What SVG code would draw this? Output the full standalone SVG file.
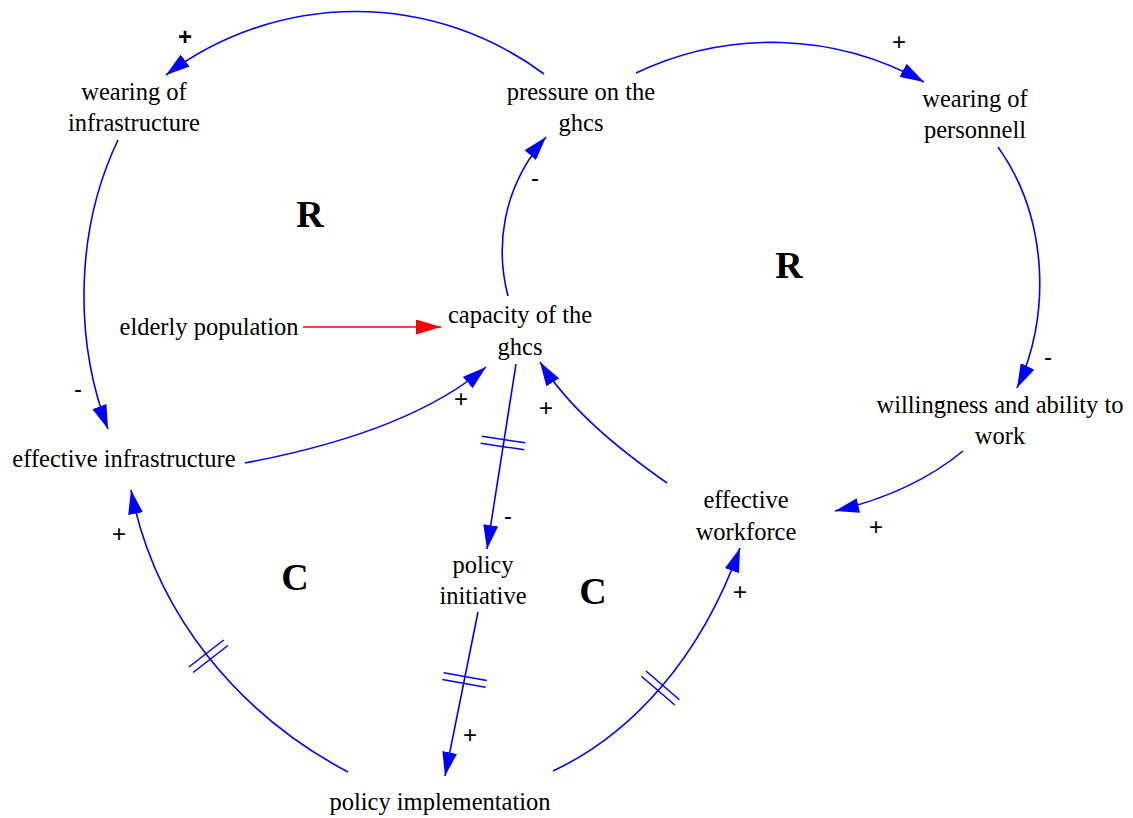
<svg xmlns="http://www.w3.org/2000/svg" width="1133" height="818" viewBox="0 0 1133 818">
<style>
.lbl{font-family:"Liberation Serif","Times New Roman",serif;font-size:24.5px;fill:#000;text-anchor:middle}
.loop{font-family:"Liberation Serif","Times New Roman",serif;font-size:38px;font-weight:bold;fill:#000;text-anchor:middle}
.pol{font-family:"Liberation Sans",Arial,sans-serif;font-size:24px;fill:#000;text-anchor:middle}
.c{fill:none;stroke:#0000ff;stroke-width:1.6}
.d{fill:none;stroke:#0000ff;stroke-width:1.5}
</style>
<defs>
<marker id="ab" markerUnits="userSpaceOnUse" viewBox="0 0 24 15" markerWidth="24" markerHeight="15" refX="24" refY="7.5" orient="auto"><path d="M0,0 L24,7.5 L0,15 z" fill="#0000ff"/></marker>
<marker id="ar" markerUnits="userSpaceOnUse" viewBox="0 0 25 15" markerWidth="25" markerHeight="15" refX="25" refY="7.5" orient="auto"><path d="M0,0 L25,7.5 L0,15 z" fill="#ff0000"/></marker>
</defs>
<g id="connectors">
<path class="c" d="M544,74 A315,315 0 0 0 166,75" marker-end="url(#ab)"/>
<path class="c" d="M636,73 A314,314 0 0 1 924,82" marker-end="url(#ab)"/>
<path class="c" d="M998,147 C1050,220 1050,320 1017,388" marker-end="url(#ab)"/>
<path class="c" d="M963,451 Q912,493 835,511" marker-end="url(#ab)"/>
<path class="c" d="M508,296 C496,250 500,190 546,137" marker-end="url(#ab)"/>
<path d="M303,327 L441,327" fill="none" stroke="#ff0000" stroke-width="1.6" marker-end="url(#ar)"/>
<path class="c" d="M245,463 Q410,432 486,367" marker-end="url(#ab)"/>
<path class="c" d="M118,140 C75,230 74,340 108,429" marker-end="url(#ab)"/>
<path class="c" d="M516,364 L487,549" marker-end="url(#ab)"/>
<path class="d" d="M481.7,436.2 L525.3,442.8 M480.7,443.2 L524.3,449.8"/>
<path class="c" d="M478,612 L445,776" marker-end="url(#ab)"/>
<path class="d" d="M443.6,672.7 L486.8,680.5 M442.4,679.5 L485.6,687.3"/>
<path class="c" d="M348,772 C240,715 155,615 131,490" marker-end="url(#ab)"/>
<path class="d" d="M188.9,667 L223.7,640 M193.1,672.5 L227.9,645.5"/>
<path class="c" d="M553,771 C630,735 700,660 740,548" marker-end="url(#ab)"/>
<path class="d" d="M646,671 L679.4,699.8 M641.4,676.2 L674.8,705"/>
<path class="c" d="M667,483 C620,450 570,410 540,362" marker-end="url(#ab)"/>
</g>
<g id="polarities">
<text class="pol" x="185" y="45" font-weight="bold">+</text>
<text class="pol" x="899" y="50">+</text>
<text class="pol" x="535" y="186">-</text>
<text class="pol" x="78" y="397">-</text>
<text class="pol" x="461" y="407">+</text>
<text class="pol" x="546" y="416">+</text>
<text class="pol" x="1048" y="365">-</text>
<text class="pol" x="939" y="408">-</text>
<text class="pol" x="876" y="535">+</text>
<text class="pol" x="119" y="542">+</text>
<text class="pol" x="508" y="524">-</text>
<text class="pol" x="740" y="600">+</text>
<text class="pol" x="470" y="743">+</text>
</g>
<g id="loops">
<text class="loop" x="310" y="227">R</text>
<text class="loop" x="789" y="278">R</text>
<text class="loop" x="295" y="590">C</text>
<text class="loop" x="593" y="604">C</text>
</g>
<g id="node-wearing-infrastructure"><text class="lbl" x="134" y="100">wearing of</text><text class="lbl" x="134" y="131">infrastructure</text></g>
<g id="node-pressure"><text class="lbl" x="581" y="100">pressure on the</text><text class="lbl" x="581" y="131">ghcs</text></g>
<g id="node-wearing-personnell"><text class="lbl" x="975" y="107">wearing of</text><text class="lbl" x="975" y="138">personnell</text></g>
<g id="node-capacity"><text class="lbl" x="520" y="323">capacity of the</text><text class="lbl" x="520" y="355">ghcs</text></g>
<g id="node-elderly"><text class="lbl" x="209" y="335">elderly population</text></g>
<g id="node-willingness"><text class="lbl" x="1000" y="413">willingness and ability to</text><text class="lbl" x="1000" y="444">work</text></g>
<g id="node-effective-infrastructure"><text class="lbl" x="124" y="467">effective infrastructure</text></g>
<g id="node-effective-workforce"><text class="lbl" x="746" y="508">effective</text><text class="lbl" x="746" y="540">workforce</text></g>
<g id="node-policy-initiative"><text class="lbl" x="483" y="573">policy</text><text class="lbl" x="483" y="604">initiative</text></g>
<g id="node-policy-implementation"><text class="lbl" x="440" y="810">policy implementation</text></g>
</svg>
